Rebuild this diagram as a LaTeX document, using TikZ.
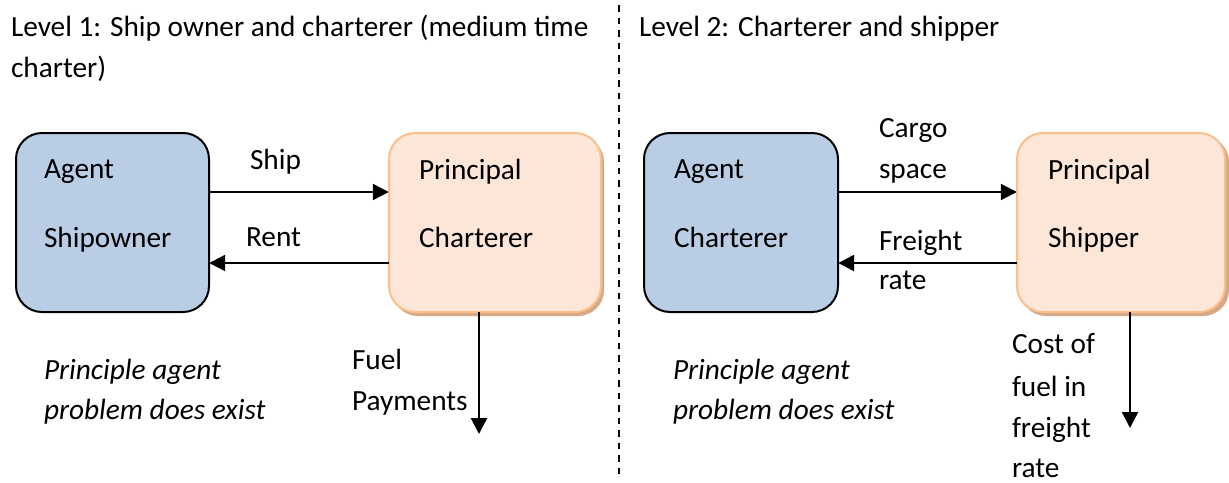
\documentclass[tikz,border=0pt]{standalone}
\usepackage{fontspec}
\setmainfont{Carlito}
\usetikzlibrary{arrows.meta}
\definecolor{agentfill}{HTML}{B9CDE5}
\definecolor{princfill}{HTML}{FCE6D8}
\definecolor{princdraw}{HTML}{F9C08E}
\definecolor{princshadow}{HTML}{D6A886}
\tikzset{
  txt/.style={anchor=base west, inner sep=0pt, outer sep=0pt, font=\fontsize{29.3}{41}\selectfont},
  itxt/.style={txt, font=\fontsize{29.3}{41}\selectfont\itshape},
  agentbox/.style={draw=black, line width=2pt, fill=agentfill, rounded corners=26pt, inner sep=0pt},
  princbox/.style={draw=princdraw, line width=2pt, fill=princfill, rounded corners=26pt, inner sep=0pt},
  princshadowbox/.style={fill=princshadow, rounded corners=26pt},
  arr/.style={line width=2.4pt, -{Triangle[length=16pt,width=16pt]}},
  divider/.style={line width=1.8pt, dash pattern=on 6.5pt off 6pt}
}
\begin{document}
\begin{tikzpicture}[x=1pt,y=-1pt]
\useasboundingbox[fill=white] (0,0) rectangle (1229,482);

% divider
\coordinate (dtop) at (619,5);
\coordinate (dbot) at (619,477);
\draw[divider] (dtop) -- (dbot);

% titles
\node[txt] (t1a) at (11,36) {Level 1: Ship owner and charterer (medium time};
\node[txt] (t1b) at (11,77) {charter)};
\node[txt] (t2a) at (639,36) {Level 2: Charterer and shipper};

% ---------- Level 1 ----------
\fill[princshadowbox] (392,136) rectangle (604,316);
\path[agentbox] (16,133) rectangle (209,312);
\path[princbox] (389,133) rectangle (601,312);
\node[inner sep=0pt, minimum width=193pt, minimum height=179pt] (aL) at (112.5,222.5) {};
\node[inner sep=0pt, minimum width=212pt, minimum height=179pt] (pL) at (495,222.5) {};

\node[txt] (aL1) at (44,178) {Agent};
\node[txt] (aL2) at (44,247) {Shipowner};
\node[txt] (pL1) at (419,179) {Principal};
\node[txt] (pL2) at (419,247) {Charterer};

\coordinate (yS) at (0,192);
\coordinate (yR) at (0,263);
\draw[arr] (aL.east |- yS) -- (pL.west |- yS);
\draw[arr] (pL.west |- yR) -- (aL.east |- yR);
\node[txt] (lShip) at (250,169) {Ship};
\node[txt] (lRent) at (246,246) {Rent};

\coordinate (fuelEnd) at (479,434);
\draw[arr] (pL.south -| fuelEnd) -- (fuelEnd);
\node[txt] (lFuel1) at (352,369) {Fuel};
\node[txt] (lFuel2) at (352,410) {Payments};

\node[itxt] (pa1) at (44,379) {Principle agent};
\node[itxt] (pa2) at (44,419) {problem does exist};

% ---------- Level 2 ----------
\fill[princshadowbox] (1020,136) rectangle (1229,316);
\path[agentbox] (644,133) rectangle (838,312);
\path[princbox] (1017,133) rectangle (1225,312);
\node[inner sep=0pt, minimum width=194pt, minimum height=179pt] (aR) at (741,222.5) {};
\node[inner sep=0pt, minimum width=208pt, minimum height=179pt] (pR) at (1121,222.5) {};

\node[txt] (aR1) at (674,178) {Agent};
\node[txt] (aR2) at (674,247) {Charterer};
\node[txt] (pR1) at (1048,179) {Principal};
\node[txt] (pR2) at (1048,247) {Shipper};

\draw[arr] (aR.east |- yS) -- (pR.west |- yS);
\draw[arr] (pR.west |- yR) -- (aR.east |- yR);
\node[txt] (lCargo1) at (879,137) {Cargo};
\node[txt] (lCargo2) at (879,178) {space};
\node[txt] (lFr1) at (879,250) {Freight};
\node[txt] (lFr2) at (879,289) {rate};

\coordinate (costEnd) at (1130,428);
\draw[arr] (pR.south -| costEnd) -- (costEnd);
\node[txt] (lC1) at (1012,353) {Cost of};
\node[txt] (lC2) at (1012,396) {fuel in};
\node[txt] (lC3) at (1012,437) {freight};
\node[txt] (lC4) at (1012,477) {rate};

\node[itxt] (pb1) at (673,379) {Principle agent};
\node[itxt] (pb2) at (673,419) {problem does exist};
\end{tikzpicture}
\end{document}
